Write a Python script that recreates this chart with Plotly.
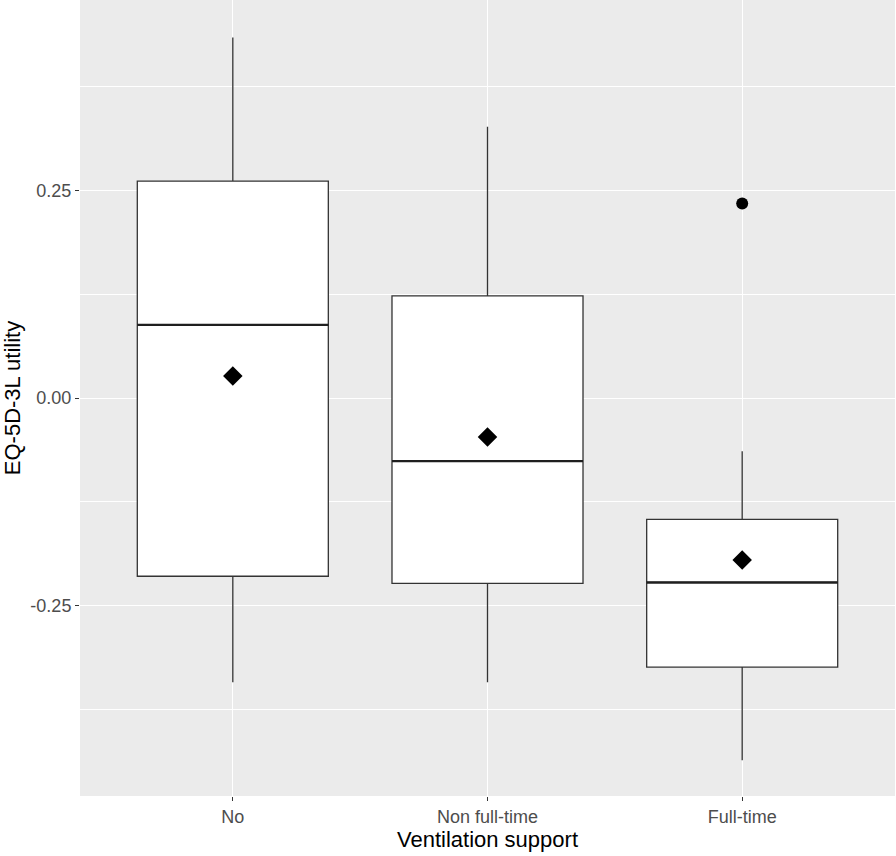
import plotly.graph_objects as go

groups = ['No', 'Non full-time', 'Full-time']
lower_whisker = [-0.342, -0.342, -0.436]
q1 = [-0.2145, -0.223, -0.324]
median = [0.088, -0.076, -0.222]
q3 = [0.261, 0.123, -0.146]
upper_whisker = [0.434, 0.3265, -0.064]
means = [0.0265, -0.047, -0.195]
outlier_group = ['Full-time']
outlier_value = [0.234]

pos = [i + 1 for i in range(len(groups))]
box_w = 0.75

fig = go.Figure()
for i, g in enumerate(groups):
    fig.add_trace(go.Box(
        x=[pos[i]], q1=[q1[i]], median=[median[i]], q3=[q3[i]],
        lowerfence=[lower_whisker[i]], upperfence=[upper_whisker[i]],
        width=box_w, whiskerwidth=0, boxpoints=False,
        fillcolor='white', line=dict(color='#333333', width=1.3),
        name=g, showlegend=False, hoverinfo='skip'))
    # thicker median like ggplot
    fig.add_trace(go.Scatter(
        x=[pos[i] - box_w / 2, pos[i] + box_w / 2], y=[median[i], median[i]],
        mode='lines', line=dict(color='#1f1f1f', width=2.4),
        showlegend=False, hoverinfo='skip'))

fig.add_trace(go.Scatter(
    x=pos, y=means, mode='markers',
    marker=dict(symbol='diamond', size=15, color='black'),
    showlegend=False))
fig.add_trace(go.Scatter(
    x=[pos[groups.index(g)] for g in outlier_group], y=outlier_value, mode='markers',
    marker=dict(symbol='circle', size=12, color='black'),
    showlegend=False))

fig.update_layout(
    width=896, height=856,
    margin=dict(l=80, r=1, t=0, b=60),
    plot_bgcolor='#EBEBEB', paper_bgcolor='white',
    font=dict(family='Liberation Sans, Arial, sans-serif'),
    xaxis=dict(
        range=[0.4, 3.6], tickvals=pos, ticktext=groups,
        showgrid=True, gridcolor='white', gridwidth=1.4, zeroline=False,
        ticks='outside', ticklen=4, tickcolor='#333333', tickwidth=1.2,
        tickfont=dict(size=18, color='#4D4D4D'),
        title=dict(text='Ventilation support', font=dict(size=22, color='black'), standoff=1)),
    yaxis=dict(
        range=[-0.479, 0.479], tickvals=[-0.25, 0, 0.25], ticktext=['-0.25', '0.00', '0.25'],
        showgrid=True, gridcolor='white', gridwidth=1.4, zeroline=False,
        minor=dict(tickvals=[-0.375, -0.125, 0.125, 0.375], showgrid=True,
                   gridcolor='white', gridwidth=0.7, ticks=''),
        ticks='outside', ticklen=4, tickcolor='#333333', tickwidth=1.2,
        tickfont=dict(size=18, color='#4D4D4D'),
        title=dict(text='EQ-5D-3L utility', font=dict(size=22, color='black'), standoff=4)),
)

fig.write_html('out.html', config={'displayModeBar': False},
               post_script="document.body.style.margin='0px';")
